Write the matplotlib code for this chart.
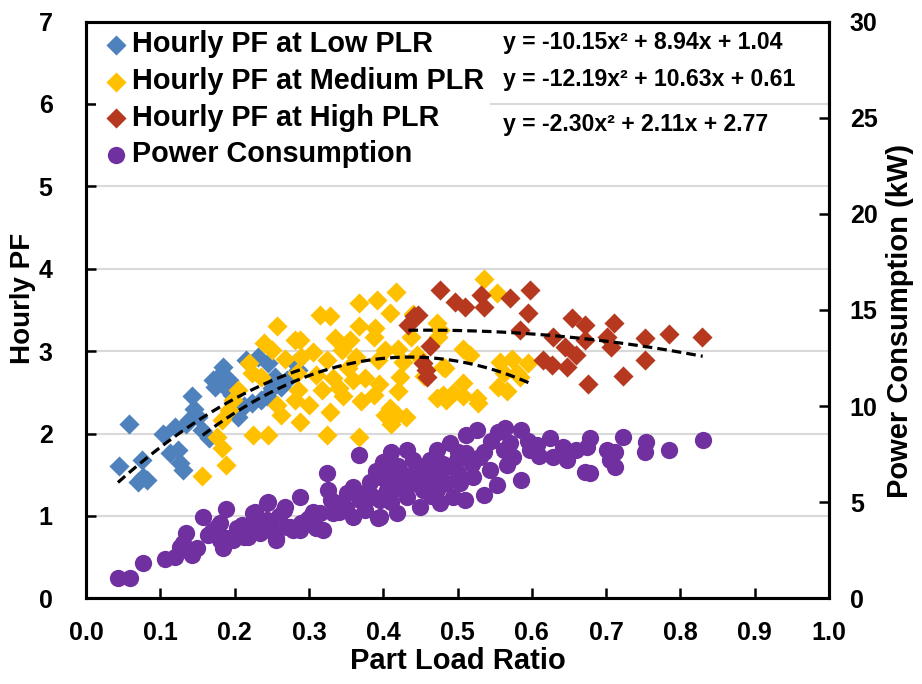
import matplotlib
matplotlib.use("Agg")
import matplotlib.pyplot as plt
import numpy as np

plt.rcParams['font.family'] = ['Liberation Sans', 'DejaVu Sans']
plt.rcParams['font.weight'] = 'bold'

# Hourly PF at low part load ratio
low_plr = [0.044, 0.058, 0.070, 0.075, 0.082, 0.077, 0.104, 0.113, 0.120, 0.124,
           0.127, 0.131, 0.135, 0.138, 0.142, 0.146, 0.151, 0.156, 0.171, 0.178,
           0.184, 0.174, 0.187, 0.192, 0.205, 0.212, 0.216, 0.223, 0.232, 0.236,
           0.245, 0.254, 0.263, 0.281, 0.286, 0.196, 0.165, 0.243, 0.270, 0.250]
low_pf = [1.60, 2.11, 1.41, 1.68, 1.44, 1.47, 2.00, 1.76, 2.08, 1.80,
          1.64, 1.56, 2.12, 2.16, 2.45, 2.30, 2.20, 2.04, 2.65, 2.69,
          2.81, 2.57, 2.57, 2.65, 2.20, 2.33, 2.89, 2.37, 2.93, 2.41,
          2.85, 2.69, 2.57, 2.85, 2.77, 2.47, 1.95, 2.45, 2.65, 2.55]

# Hourly PF at medium part load ratio
med_plr = [0.156, 0.189, 0.183, 0.176, 0.183, 0.192, 0.198, 0.205, 0.223, 0.236,
           0.225, 0.245, 0.257, 0.263, 0.281, 0.286, 0.288, 0.250, 0.268, 0.290,
           0.257, 0.281, 0.288, 0.315, 0.328, 0.335, 0.355, 0.367, 0.392, 0.417,
           0.409, 0.367, 0.389, 0.387, 0.438, 0.474, 0.472, 0.306, 0.344, 0.402,
           0.420, 0.508, 0.324, 0.364, 0.393, 0.427, 0.483, 0.284, 0.310, 0.333,
           0.360, 0.376, 0.423, 0.317, 0.346, 0.387, 0.420, 0.472, 0.494, 0.508,
           0.485, 0.328, 0.409, 0.418, 0.431, 0.402, 0.411, 0.324, 0.367, 0.535,
           0.553, 0.476, 0.517, 0.480, 0.557, 0.573, 0.595, 0.580, 0.562, 0.555,
           0.566, 0.584, 0.508, 0.481, 0.526, 0.528, 0.353, 0.340, 0.300, 0.370,
           0.395, 0.445, 0.455, 0.440, 0.240, 0.220]
med_pf = [1.48, 1.62, 1.82, 1.96, 2.16, 2.29, 2.41, 2.53, 2.73, 2.69,
          1.98, 1.98, 2.35, 2.22, 2.41, 2.53, 2.14, 3.01, 2.91, 2.93,
          3.30, 3.13, 3.13, 3.44, 3.42, 3.16, 3.13, 3.58, 3.62, 3.72,
          3.46, 3.30, 3.28, 3.17, 3.17, 3.17, 3.34, 2.99, 3.01, 3.01,
          3.03, 3.03, 2.89, 2.93, 2.89, 2.87, 2.79, 2.73, 2.71, 2.67,
          2.65, 2.67, 2.69, 2.53, 2.45, 2.47, 2.51, 2.43, 2.49, 2.45,
          2.41, 2.26, 2.31, 2.22, 2.20, 2.22, 2.12, 1.98, 1.96, 3.88,
          3.70, 3.26, 2.95, 2.81, 2.87, 2.91, 2.85, 2.73, 2.73, 2.57,
          2.51, 2.69, 2.61, 2.47, 2.43, 2.37, 2.80, 2.55, 2.35, 2.40,
          2.60, 2.95, 2.70, 3.45, 3.10, 2.85]

# Hourly PF at high part load ratio
high_plr = [0.434, 0.441, 0.447, 0.463, 0.454, 0.457, 0.459, 0.476, 0.497, 0.510,
            0.532, 0.535, 0.571, 0.597, 0.595, 0.584, 0.615, 0.627, 0.629, 0.645,
            0.654, 0.672, 0.647, 0.660, 0.672, 0.676, 0.710, 0.701, 0.707, 0.723,
            0.752, 0.752, 0.784, 0.829]
high_pf = [3.32, 3.42, 3.44, 3.06, 2.85, 2.77, 2.69, 3.74, 3.60, 3.54,
           3.68, 3.54, 3.64, 3.74, 3.46, 3.26, 2.89, 2.83, 3.17, 3.05,
           3.40, 3.32, 2.81, 2.95, 3.13, 2.60, 3.34, 3.17, 3.05, 2.70,
           3.16, 2.89, 3.21, 3.17]

# Power consumption (kW) against part load ratio
pow_plr = [0.043, 0.059, 0.077, 0.106, 0.120, 0.127, 0.131, 0.135, 0.140, 0.142,
           0.149, 0.158, 0.164, 0.176, 0.180, 0.180, 0.185, 0.189, 0.189, 0.198,
           0.203, 0.203, 0.212, 0.218, 0.221, 0.225, 0.227, 0.234, 0.243, 0.243,
           0.245, 0.247, 0.256, 0.256, 0.266, 0.268, 0.270, 0.275, 0.279, 0.288,
           0.288, 0.297, 0.306, 0.310, 0.310, 0.315, 0.319, 0.324, 0.326, 0.333,
           0.342, 0.351, 0.360, 0.367, 0.369, 0.382, 0.387, 0.393, 0.400, 0.405,
           0.405, 0.411, 0.432, 0.440, 0.472, 0.490, 0.512, 0.526, 0.555, 0.564,
           0.586, 0.535, 0.562, 0.575, 0.566, 0.598, 0.607, 0.625, 0.629, 0.642,
           0.647, 0.660, 0.674, 0.678, 0.672, 0.586, 0.553, 0.535, 0.544, 0.510,
           0.503, 0.476, 0.450, 0.418, 0.396, 0.701, 0.705, 0.463, 0.485, 0.499,
           0.512, 0.521, 0.530, 0.423, 0.440, 0.454, 0.409, 0.432, 0.472, 0.485,
           0.494, 0.476, 0.396, 0.409, 0.445, 0.463, 0.396, 0.723, 0.754, 0.752,
           0.784, 0.831, 0.712, 0.712, 0.678, 0.350, 0.360, 0.375, 0.380, 0.390,
           0.420, 0.430, 0.455, 0.465, 0.500, 0.520, 0.545, 0.570, 0.595, 0.610,
           0.330, 0.300, 0.260, 0.230, 0.210, 0.170, 0.250, 0.290, 0.340, 0.370,
           0.410, 0.425, 0.460, 0.480, 0.500]
pow_kw = [1.04, 1.04, 1.85, 2.04, 2.16, 2.68, 2.86, 3.38, 2.42, 2.25,
          2.60, 4.24, 3.29, 3.72, 3.03, 3.90, 2.60, 4.63, 3.12, 3.03,
          3.55, 3.64, 3.20, 3.20, 3.46, 4.42, 4.50, 3.38, 4.94, 4.07,
          5.02, 3.90, 3.03, 3.12, 4.59, 4.76, 3.72, 3.72, 3.55, 5.28,
          3.55, 4.07, 4.50, 3.72, 3.64, 4.42, 3.55, 6.50, 5.63, 4.42,
          4.94, 5.46, 4.24, 7.45, 5.11, 6.06, 5.28, 4.16, 7.10, 5.63,
          7.02, 7.62, 7.71, 7.19, 7.71, 8.06, 8.49, 8.75, 8.66, 8.84,
          8.75, 7.62, 7.71, 7.36, 6.93, 7.71, 7.97, 8.32, 7.36, 7.88,
          7.19, 7.71, 7.88, 8.32, 6.58, 6.15, 5.89, 5.37, 6.67, 5.11,
          5.98, 4.94, 4.76, 4.42, 4.24, 7.71, 7.19, 6.50, 6.84, 7.19,
          7.54, 6.32, 7.36, 6.15, 5.98, 5.63, 5.46, 5.28, 5.63, 5.98,
          5.28, 6.32, 5.11, 6.32, 6.84, 7.19, 6.32, 8.37, 8.14, 7.62,
          7.71, 8.23, 7.62, 6.84, 6.50, 4.70, 5.80, 4.60, 5.60, 6.60,
          6.90, 6.40, 6.20, 5.30, 6.50, 7.00, 8.20, 8.10, 8.20, 7.40,
          5.10, 4.20, 4.30, 4.00, 3.80, 3.50, 3.50, 3.90, 4.50, 5.30,
          5.00, 5.70, 6.00, 7.00, 7.60]

# Quadratic trend coefficients (a, b, c) and fitted PLR ranges
fit_low = (-10.15, 8.94, 1.04)
fit_med = (-12.19, 10.63, 0.61)
fit_high = (-2.30, 2.11, 2.77)
range_low = (0.043, 0.29)
range_med = (0.157, 0.60)
range_high = (0.434, 0.83)

labels = ["Hourly PF at Low PLR", "Hourly PF at Medium PLR",
          "Hourly PF at High PLR", "Power Consumption"]
eq_texts = ["y = -10.15x² + 8.94x + 1.04",
            "y = -12.19x² + 10.63x + 0.61",
            "y = -2.30x² + 2.11x + 2.77"]

c_low = "#4F81BD"
c_med = "#FFC000"
c_high = "#B5381F"
c_pow = "#7030A0"

fig = plt.figure(figsize=(9.22, 6.84), dpi=100)
ax = fig.add_axes([86 / 922, 1 - 598.3 / 684, 743 / 922, 576.8 / 684])
ax2 = ax.twinx()

dsize = 105
h1 = ax.scatter(low_plr, low_pf, marker="D", s=dsize, color=c_low, linewidths=0, zorder=3)
h2 = ax.scatter(med_plr, med_pf, marker="D", s=dsize, color=c_med, linewidths=0, zorder=3)
h3 = ax.scatter(high_plr, high_pf, marker="D", s=dsize, color=c_high, linewidths=0, zorder=3)

for coef, (x0, x1) in [(fit_low, range_low), (fit_med, range_med), (fit_high, range_high)]:
    xs = np.linspace(x0, x1, 100)
    ax.plot(xs, np.polyval(coef, xs), color="black", lw=2.3,
            linestyle=(0, (3, 1.6)), zorder=4)

h4 = ax2.scatter(pow_plr, pow_kw, marker="o", s=155, color=c_pow, linewidths=0, zorder=3)

ax.set_xlim(0, 1.0)
ax.set_ylim(0, 7)
ax2.set_ylim(0, 30)
ax.set_xticks(np.arange(0, 1.01, 0.1))
ax.set_xticklabels([f"{v:.1f}" for v in np.arange(0, 1.01, 0.1)])
ax.set_yticks(range(0, 8))
ax2.set_yticks(range(0, 31, 5))

ax.grid(axis="y", color="#D9D9D9", lw=1.5, zorder=0)
ax.set_axisbelow(True)

for a in (ax, ax2):
    for sp in a.spines.values():
        sp.set_linewidth(2.2)
    a.tick_params(direction="in", length=7, width=1.8, labelsize=18)
ax.tick_params(axis="x", pad=16)
ax.tick_params(axis="y", pad=24)
ax2.tick_params(axis="y", pad=15)

ax.set_xlabel("Part Load Ratio", fontsize=21, fontweight="bold", labelpad=2)
ax.set_ylabel("Hourly PF", fontsize=20, fontweight="bold")
ax2.set_ylabel("Power Consumption (kW)", fontsize=21, fontweight="bold", rotation=90)
ax.yaxis.set_label_coords(-0.067, 0.52)
ax2.yaxis.set_label_coords(1.077, 0.48)

leg = ax2.legend([h1, h2, h3, h4], labels, loc="upper left",
                 bbox_to_anchor=(0.0, 1.012),
                 fontsize=20.8, frameon=True, facecolor="white", edgecolor="none",
                 framealpha=1, fancybox=False, handletextpad=0.05, handlelength=1.0,
                 labelspacing=0.30, borderpad=0.2, borderaxespad=0.35, scatterpoints=1)
for t in leg.get_texts():
    t.set_fontweight("bold")

for txt, yf in zip(eq_texts, [0.963, 0.899, 0.821]):
    ax2.text(0.561, yf, txt, transform=ax.transAxes, fontsize=16.6, fontweight="bold",
             va="center", ha="left")

fig.savefig("out.png", dpi=100)
